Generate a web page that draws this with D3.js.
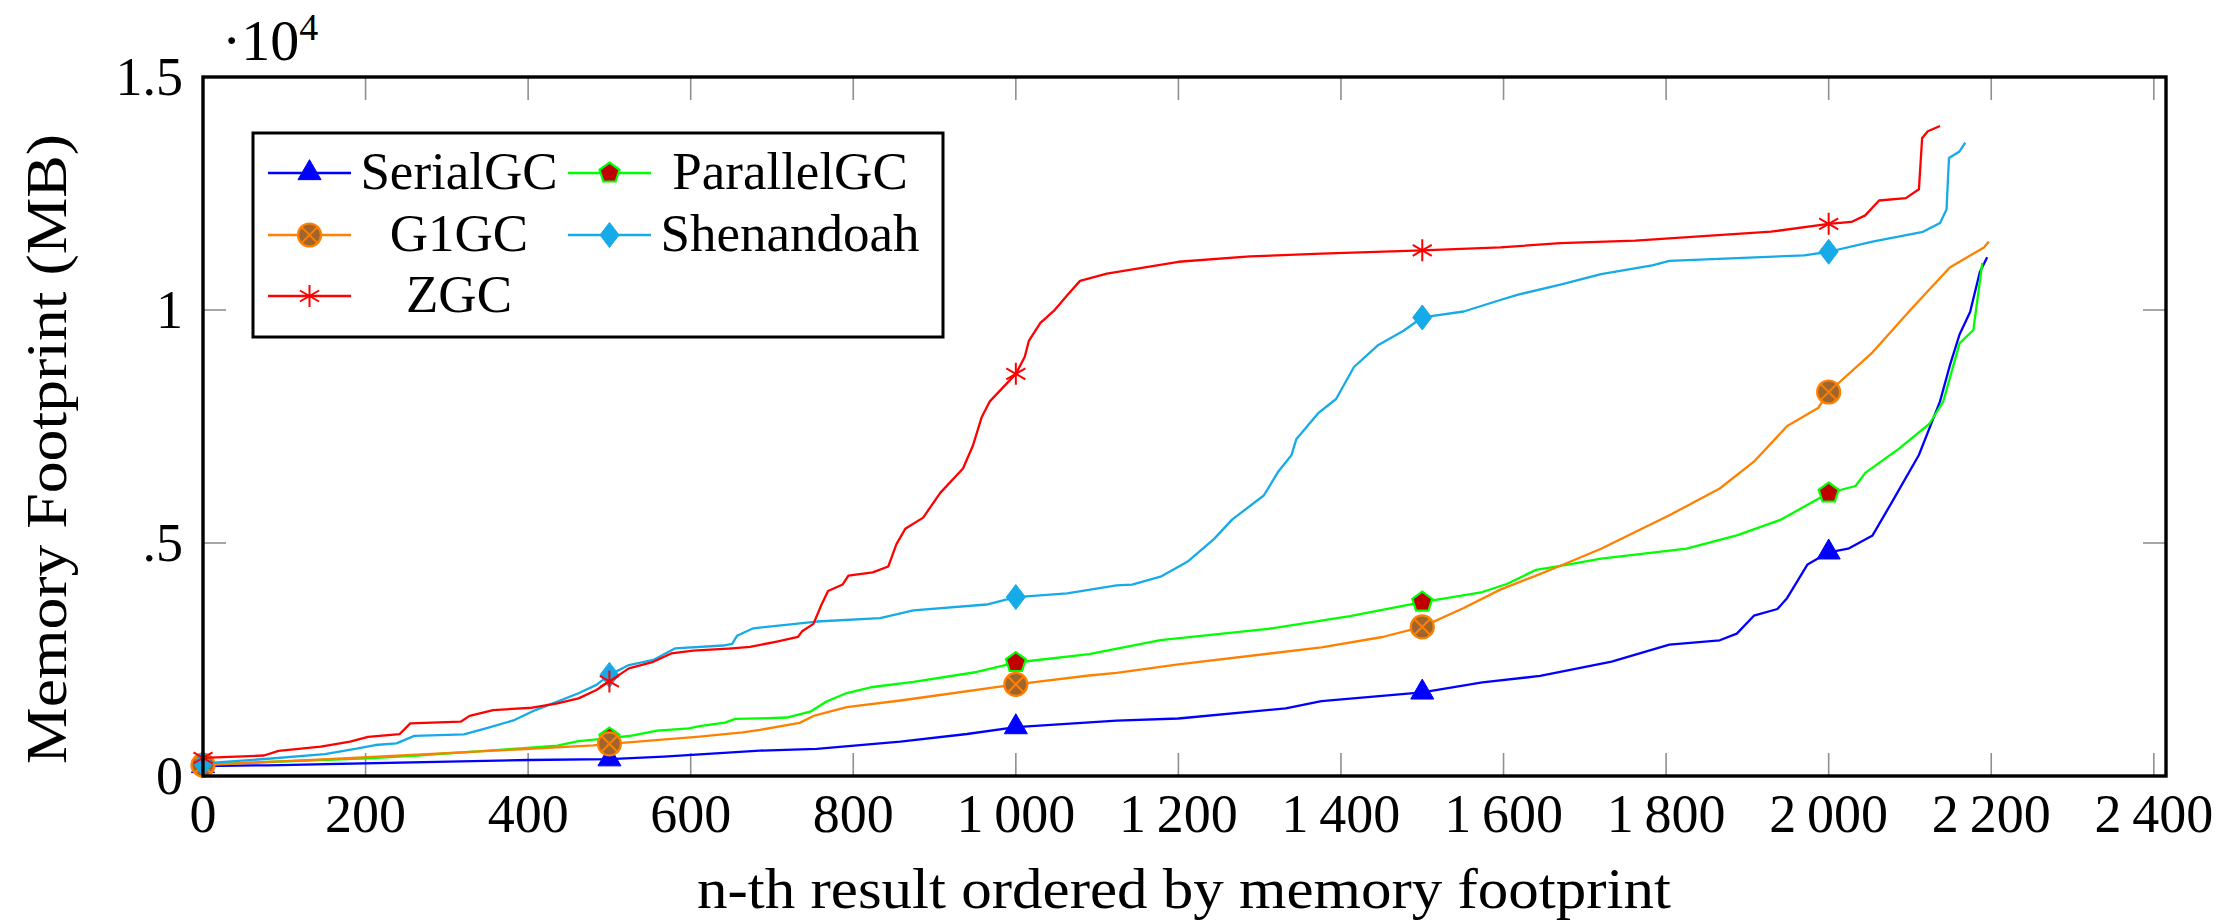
<!DOCTYPE html>
<html><head><meta charset="utf-8">
<script src="https://cdn.jsdelivr.net/npm/d3@7/dist/d3.min.js"></script>
<style>
body{margin:0;background:#fff;}
text{font-family:"Liberation Serif","Times New Roman",Times,"DejaVu Serif",serif;fill:#000;}
</style>
</head><body>
<svg id="chart" width="2239" height="920"></svg>
<script>
// ---------- data ----------
const xTicks = [0,200,400,600,800,1000,1200,1400,1600,1800,2000,2200,2400];
const xTickLabels = ["0","200","400","600","800","1\u2009000","1\u2009200","1\u2009400","1\u2009600","1\u2009800","2\u2009000","2\u2009200","2\u2009400"];
const yTicks = [0,5000,10000,15000];
const yTickLabels = ["0",".5","1","1.5"];
const seriesNames = ["SerialGC","ParallelGC","G1GC","Shenandoah","ZGC"];
const markEvery = 500;

const serialGC = [[0,215],[80,230],[400,343],[500,360],[567,415],[685,544],[755,584],[858,738],[940,901],[1000,1050],[1124,1189],[1200,1234],[1332,1451],[1376,1605],[1500,1794],[1574,2011],[1645,2147],[1733,2453],[1804,2818],[1866,2912],[1887,3056],[1908,3440],[1937,3584],[1949,3822],[1974,4541],[2000,4800],[2024,4877],[2054,5163],[2078,5882],[2111,6888],[2137,8039],[2149,8805],[2161,9474],[2174,9957],[2186,10815],[2195,11133]];
const parallelGC = [[0,250],[203,380],[268,445],[391,595],[436,650],[462,750],[500,815],[524,858],[559,973],[598,1022],[611,1070],[642,1144],[655,1225],[685,1237],[718,1255],[747,1380],[767,1600],[792,1781],[824,1910],[874,2022],[952,2232],[1000,2435],[1090,2614],[1178,2914],[1310,3157],[1411,3433],[1500,3730],[1574,3948],[1604,4120],[1640,4425],[1670,4511],[1720,4665],[1825,4877],[1887,5163],[1941,5500],[2000,6073],[2033,6223],[2045,6504],[2087,7032],[2124,7559],[2141,8039],[2161,9283],[2178,9571],[2189,11009]];
const g1GC = [[0,235],[172,380],[391,573],[480,658],[500,690],[611,844],[664,937],[685,990],[734,1140],[751,1288],[792,1476],[858,1620],[898,1717],[1000,1965],[1090,2157],[1124,2212],[1200,2397],[1376,2760],[1451,2983],[1500,3200],[1551,3605],[1596,4000],[1640,4300],[1670,4511],[1720,4877],[1804,5594],[1866,6170],[1908,6745],[1949,7511],[1987,7897],[2000,8240],[2054,9092],[2103,10049],[2149,10912],[2191,11343],[2197,11468]];
const shenandoah = [[0,270],[80,370],[150,470],[189,585],[212,665],[238,700],[260,860],[321,895],[348,1020],[383,1200],[409,1415],[436,1595],[462,1775],[484,1955],[500,2170],[524,2380],[554,2490],[581,2740],[640,2800],[651,2837],[657,3009],[677,3170],[755,3315],[833,3390],[874,3555],[964,3680],[1000,3840],[1063,3920],[1124,4090],[1143,4105],[1178,4277],[1211,4597],[1244,5088],[1266,5502],[1305,6019],[1323,6536],[1339,6882],[1345,7225],[1372,7785],[1394,8090],[1416,8777],[1446,9251],[1477,9554],[1500,9840],[1551,9968],[1596,10215],[1618,10331],[1670,10545],[1720,10768],[1783,10959],[1804,11056],[1970,11172],[2000,11250],[2054,11468],[2116,11678],[2137,11869],[2145,12157],[2148,13262],[2161,13403],[2168,13594]];
const zGC = [[0,390],[75,440],[93,540],[145,630],[181,740],[203,840],[242,900],[255,1130],[317,1165],[328,1290],[357,1415],[405,1465],[436,1560],[462,1665],[484,1845],[500,2030],[524,2310],[554,2450],[576,2630],[603,2690],[651,2740],[673,2770],[706,2885],[732,2985],[737,3105],[751,3265],[761,3680],[769,3970],[787,4110],[794,4300],[824,4370],[843,4495],[853,4970],[864,5305],[886,5545],[907,6075],[935,6600],[947,7080],[958,7700],[968,8040],[1000,8630],[1011,8995],[1016,9335],[1030,9720],[1047,9985],[1064,10330],[1079,10625],[1112,10780],[1200,11035],[1288,11150],[1376,11210],[1500,11280],[1596,11345],[1670,11435],[1762,11490],[1929,11680],[2000,11850],[2028,11890],[2045,12030],[2062,12350],[2095,12400],[2111,12590],[2115,13690],[2122,13835],[2137,13950]];

// ---------- setup ----------
const svg = d3.select("#chart");
const L = 203, R = 2166, T = 77, B = 776;
const x = d3.scaleLinear().domain([0, 2415]).range([L, R]);
const y = d3.scaleLinear().domain([0, 15000]).range([B, T]);

const styles = {
  SerialGC:   {data: serialGC,   color: "#0000ff", mark: "triangle", fill: "#0000ff"},
  ParallelGC: {data: parallelGC, color: "#00ff00", mark: "pentagon", fill: "#c00000"},
  G1GC:       {data: g1GC,       color: "#ff8000", mark: "otimes",   fill: "#a0652c"},
  Shenandoah: {data: shenandoah, color: "#17aae8", mark: "diamond",  fill: "#17aae8"},
  ZGC:        {data: zGC,        color: "#ff0000", mark: "asterisk", fill: "none"}
};

function drawMark(g, type, color, fill, cx, cy) {
  const m = g.append("g").attr("transform", `translate(${cx},${cy})`);
  if (type === "triangle") {
    const r = 13.3;
    m.append("path").attr("d", `M0,${-r}L${r*0.866},${r*0.5}L${-r*0.866},${r*0.5}Z`)
      .attr("fill", fill).attr("stroke", color).attr("stroke-width", 1);
  } else if (type === "pentagon") {
    const r = 10.5;
    const pts = d3.range(5).map(k => {
      const a = (-90 + k*72) * Math.PI/180;
      return [r*Math.cos(a), r*Math.sin(a)];
    });
    m.append("path").attr("d", "M" + pts.map(p => p.join(",")).join("L") + "Z")
      .attr("fill", fill).attr("stroke", color).attr("stroke-width", 2.2);
  } else if (type === "otimes") {
    const r = 11.5;
    m.append("circle").attr("r", r).attr("fill", fill).attr("stroke", color).attr("stroke-width", 2.2);
    const d = r*0.707;
    m.append("path").attr("d", `M${-d},${-d}L${d},${d}M${-d},${d}L${d},${-d}`)
      .attr("stroke", color).attr("stroke-width", 2);
  } else if (type === "diamond") {
    m.append("path").attr("d", "M0,-12.5L9.5,0L0,12.5L-9.5,0Z")
      .attr("fill", fill).attr("stroke", color).attr("stroke-width", 1);
  } else if (type === "asterisk") {
    const r = 11;
    let d = "";
    [90, 30, 150].forEach(a => {
      const c = Math.cos(a*Math.PI/180)*r, s = Math.sin(a*Math.PI/180)*r;
      d += `M${-c},${-s}L${c},${s}`;
    });
    m.append("path").attr("d", d).attr("stroke", color).attr("stroke-width", 2).attr("fill", "none");
  }
}

svg.append("rect").attr("width", 2239).attr("height", 920).attr("fill", "#fff");

// ticks (inward, gray)
const tg = svg.append("g").attr("stroke", "#8f8f8f").attr("stroke-width", 1.6);
xTicks.forEach(t => {
  tg.append("line").attr("x1", x(t)).attr("x2", x(t)).attr("y1", B).attr("y2", B-23);
  tg.append("line").attr("x1", x(t)).attr("x2", x(t)).attr("y1", T).attr("y2", T+23);
});
yTicks.forEach(t => {
  tg.append("line").attr("x1", L).attr("x2", L+23).attr("y1", y(t)).attr("y2", y(t));
  tg.append("line").attr("x1", R).attr("x2", R-23).attr("y1", y(t)).attr("y2", y(t));
});

// series
const line = d3.line().x(d => x(d[0])).y(d => y(d[1]));
const plotG = svg.append("g");
seriesNames.forEach(name => {
  const s = styles[name];
  plotG.append("path").datum(s.data).attr("d", line)
    .attr("fill", "none").attr("stroke", s.color).attr("stroke-width", 2.3)
    .attr("stroke-linejoin", "round");
  s.data.filter(d => d[0] % markEvery === 0).forEach(d => {
    drawMark(plotG, s.mark, s.color, s.fill, x(d[0]), y(d[1]));
  });
});

// frame
svg.append("rect").attr("x", L).attr("y", T).attr("width", R-L).attr("height", B-T)
  .attr("fill", "none").attr("stroke", "#000").attr("stroke-width", 3.4);

// tick labels
xTicks.forEach((t, i) => {
  svg.append("text").attr("x", x(t)).attr("y", 832).attr("text-anchor", "middle")
    .attr("font-size", 54).text(xTickLabels[i]);
});
yTicks.forEach((t, i) => {
  svg.append("text").attr("x", 183).attr("y", y(t) + 18).attr("text-anchor", "end")
    .attr("font-size", 54).text(yTickLabels[i]);
});
// exponent label
const ex = svg.append("text").attr("x", 222).attr("y", 60).attr("font-size", 58);
ex.append("tspan").text("\u00b710");
ex.append("tspan").attr("font-size", 38).attr("dy", -20).text("4");

// axis labels
svg.append("text").attr("x", 1184).attr("y", 908).attr("text-anchor", "middle")
  .attr("font-size", 56).attr("textLength", 974).attr("lengthAdjust", "spacingAndGlyphs")
  .text("n-th result ordered by memory footprint");
svg.append("text").attr("transform", "translate(66,449) rotate(-90)").attr("text-anchor", "middle")
  .attr("font-size", 56).attr("textLength", 630).attr("lengthAdjust", "spacingAndGlyphs")
  .text("Memory Footprint (MB)");

// legend
const lg = svg.append("g");
lg.append("rect").attr("x", 253).attr("y", 133).attr("width", 690).attr("height", 204)
  .attr("fill", "#fff").attr("stroke", "#000").attr("stroke-width", 3);
const legendPos = [
  {col: 0, row: 0}, {col: 1, row: 0}, {col: 0, row: 1}, {col: 1, row: 1}, {col: 0, row: 2}
];
const colLineX = [268, 568], colTextX = [459, 790], rowY = [173, 235, 296];
seriesNames.forEach((name, i) => {
  const s = styles[name], p = legendPos[i];
  const x0 = colLineX[p.col], yy = rowY[p.row];
  lg.append("line").attr("x1", x0).attr("x2", x0 + 83).attr("y1", yy).attr("y2", yy)
    .attr("stroke", s.color).attr("stroke-width", 2.4);
  drawMark(lg, s.mark, s.color, s.fill, x0 + 41.5, yy);
  lg.append("text").attr("x", colTextX[p.col]).attr("y", yy + 16).attr("text-anchor", "middle")
    .attr("font-size", 53).text(name);
});
</script>
</body></html>
